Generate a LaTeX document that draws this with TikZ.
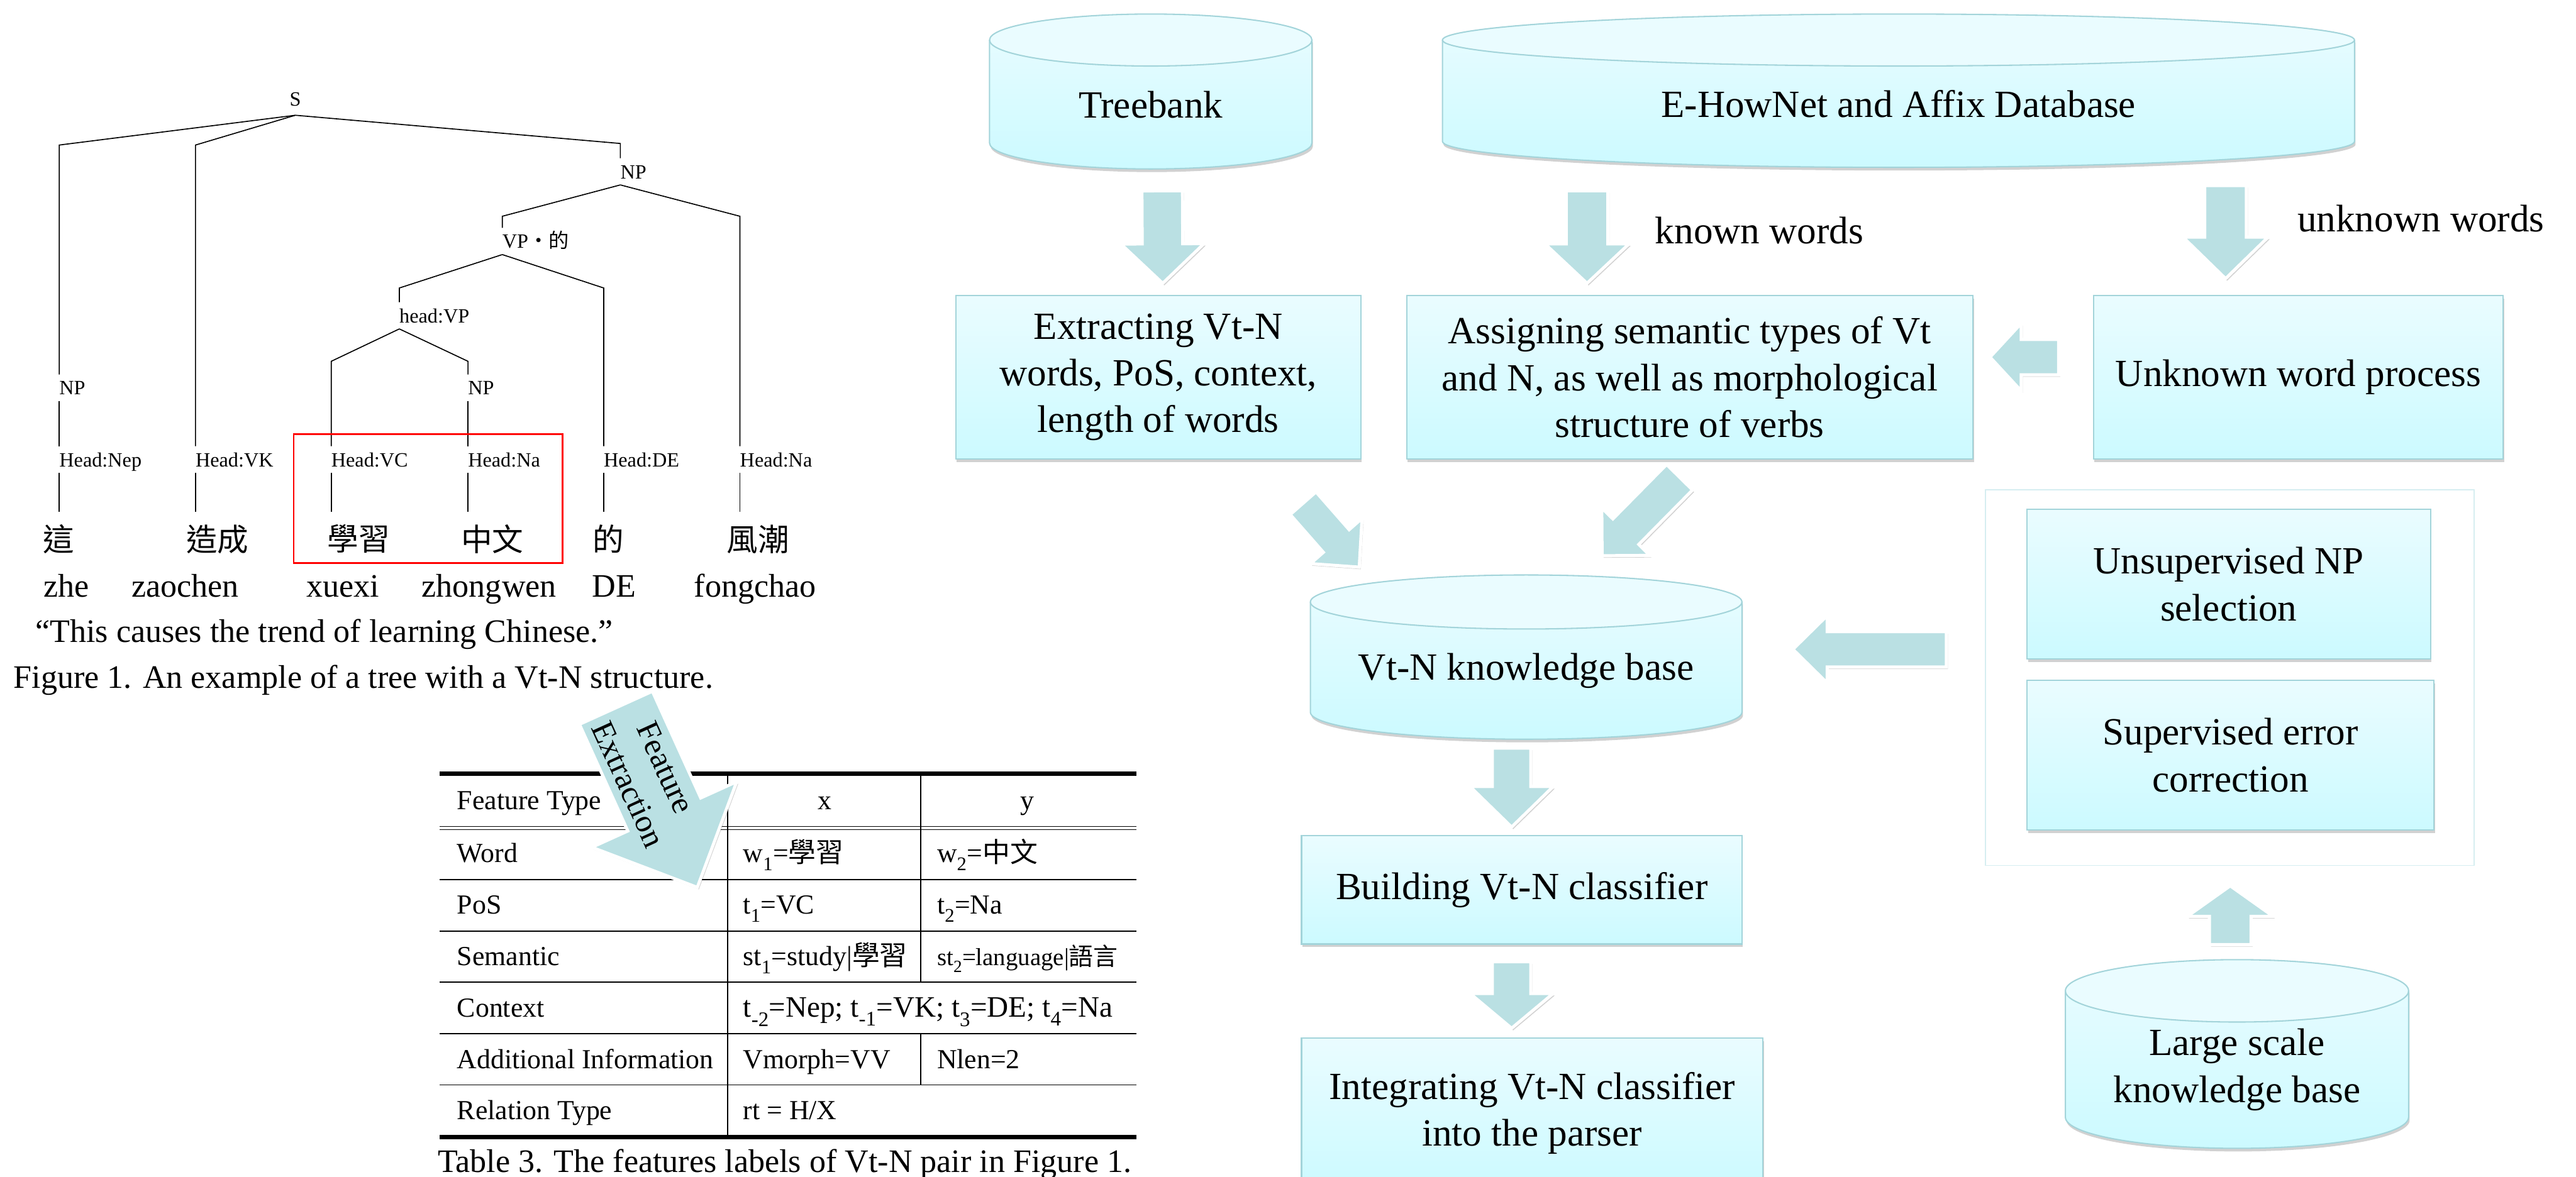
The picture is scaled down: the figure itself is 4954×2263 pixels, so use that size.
\documentclass[tikz,border=0pt]{standalone}
\usepackage{fontspec}
\setmainfont{Liberation Serif}
\newfontfamily\cjk{Noto Sans CJK TC}
\usetikzlibrary{calc,shadows,positioning}

\definecolor{arrowfill}{RGB}{186,224,227}
\definecolor{boxedge}{RGB}{163,212,218}
\definecolor{boxtop}{RGB}{234,252,255}
\definecolor{boxbot}{RGB}{204,250,255}
\definecolor{frameedge}{RGB}{214,238,241}

\tikzset{
  treeline/.style={line width=2pt},
  tag/.style={anchor=west, inner xsep=0pt, inner ysep=12pt, text height=27pt, text depth=0pt, font=\fontsize{39}{39}\selectfont},
  hanzi/.style={inner sep=0pt, font=\fontsize{60}{60}\selectfont\cjk},
  pinyin/.style={anchor=base west, inner sep=0pt, font=\fontsize{63}{63}\selectfont},
  cell/.style={anchor=base west, inner sep=0pt, font=\fontsize{53}{53}\selectfont},
  flowtext/.style={align=center, inner sep=0pt, font=\fontsize{74}{90}\selectfont},
  procbox/.style={flowtext, draw=boxedge, line width=2.5pt, top color=boxtop, bottom color=boxbot,
    drop shadow={shadow xshift=2pt, shadow yshift=-6pt, opacity=.3, fill=black!60}},
  grpframe/.style={draw=frameedge, line width=2pt},
  cylbody/.style={top color=boxtop, bottom color=boxbot,
    drop shadow={shadow xshift=2pt, shadow yshift=-6pt, opacity=.3, fill=black!60}},
  cyltop/.style={fill=boxtop, draw=boxedge, line width=2.5pt},
  cyledge/.style={draw=boxedge, line width=2.5pt},
  blockarrow/.style={fill=arrowfill, draw=white, line width=6pt, line join=miter,
    drop shadow={shadow xshift=3pt, shadow yshift=-4pt, opacity=.3, fill=black!60}},
}

% tail, tip, shaft half width, head half width, head length
\newcommand\blockarrow[5]{%
  \coordinate (ba-h) at ($(#2)!#5pt!(#1)$);
  \filldraw[blockarrow] ($(#1)!#3pt!90:(#2)$) -- ($(ba-h)!#3pt!90:(#2)$) -- ($(ba-h)!#4pt!90:(#2)$)
    -- (#2) -- ($(ba-h)!#4pt!-90:(#2)$) -- ($(ba-h)!#3pt!-90:(#2)$) -- ($(#1)!#3pt!-90:(#2)$) -- cycle;
}

% name, left, right, top, bottom, ry, text
\newcommand\dbcyl[7]{%
  \shade[cylbody] (#2,{-(#4+#6)}) -- (#2,{-(#5-#6)})
    arc[start angle=180, end angle=360, x radius={(#3-#2)/2}, y radius=#6]
    -- (#3,{-(#4+#6)}) arc[start angle=0, end angle=180, x radius={(#3-#2)/2}, y radius=#6] -- cycle;
  \filldraw[cyltop] ({(#2+#3)/2},{-(#4+#6)}) ellipse[x radius={(#3-#2)/2}, y radius=#6];
  \draw[cyledge] (#2,{-(#4+#6)}) -- (#2,{-(#5-#6)})
    arc[start angle=180, end angle=360, x radius={(#3-#2)/2}, y radius=#6] -- (#3,{-(#4+#6)});
  \node[flowtext] (#1) at ({(#2+#3)/2},{-(#4+#6+#5)/2}) {#7};
}

\begin{document}
\begin{tikzpicture}[x=1pt, y=1pt]
\useasboundingbox (0,0) rectangle (4954,-2263);

% parse tree
\node[tag, anchor=center, inner ysep=18pt] (s) at (568,-190) {S};
\node[tag] (np3) at (1193,-330) {NP};
\node[tag] (vpde) at (966,-464) {VP{\cjk ・的}};
\node[tag] (hvp) at (768,-607) {head:VP};
\node[tag] (np1) at (114,-746) {NP};
\node[tag] (np2) at (900,-746) {NP};
\foreach \x/\lab/\nm in {114/Nep/h1, 376/VK/h2, 637/VC/h3, 900/Na/h4, 1161/DE/h5, 1423/Na/h6} {
    \node[tag] (\nm) at (\x,-884) {Head:\lab};
    \draw[treeline] (\nm.south west) -- ++(0,-75);
}
\draw[treeline] (s.south) -- (114,-279) -- (np1.north west);
\draw[treeline] (s.south) -- (376,-279) -- (h2.north west);
\draw[treeline] (s.south) -- (1193,-276) -- (np3.north west);
\draw[treeline] (np3.south west) -- (966,-416) -- (vpde.north west);
\draw[treeline] (np3.south west) -- (1423,-416) -- (h6.north west);
\draw[treeline] (vpde.south west) -- (768,-554) -- (hvp.north west);
\draw[treeline] (vpde.south west) -- (1161,-554) -- (h5.north west);
\draw[treeline] (hvp.south west) -- (637,-695) -- (h3.north west);
\draw[treeline] (hvp.south west) -- (900,-695) -- (np2.north west);
\draw[treeline] (np1.south west) -- (h1.north west);
\draw[treeline] (np2.south west) -- (h4.north west);
\foreach \x/\w/\px/\p [count=\i] in {113/這/84/zhe, 418/造成/253/zaochen, 690/學習/589/xuexi,
    947/中文/811/zhongwen, 1170/的/1139/DE, 1458/風潮/1335/fongchao} {
    \node[hanzi] (hz\i) at (\x,-1037) {\w};
    \node[pinyin] (py\i) at (\px,-1148) {\p};
}
\draw[red, line width=3pt] (565,-835) rectangle (1082,-1083);
\node[pinyin] (quote) at (68,-1236) {“This causes the trend of learning Chinese.”};
\node[pinyin] (fig1) at (26,-1324) {Figure 1. An example of a tree with a Vt-N structure.};

% feature table
\draw[line width=9pt] (846,-1488) -- (2185,-1488);
\draw[line width=1.8pt] (846,-1590) -- (2185,-1590) (846,-1596) -- (2185,-1596);
\foreach \y in {1692,1791,1889,1988,2087}
    \draw[line width=2pt] (846,-\y) -- (2185,-\y);
\draw[line width=9pt] (846,-2187) -- (2185,-2187);
\draw[line width=2pt] (1399,-1488) -- (1399,-2187);
\draw[line width=2pt] (1771,-1488) -- (1771,-1889) (1771,-1988) -- (1771,-2087);
\foreach \y/\a [count=\i] in {1557/Feature Type, 1659/Word, 1758/PoS, 1857/Semantic, 1956/Context,
    2055/Additional Information, 2153/Relation Type}
    \node[cell] (ft\i) at (879,-\y) {\a};
\node[cell, anchor=base] (hx) at (1586,-1557) {x};
\node[cell, anchor=base] (hy) at (1975,-1557) {y};
\node[cell] (c22) at (1429,-1659) {w\textsubscript{1}={\cjk 學習}};
\node[cell] (c23) at (1802,-1659) {w\textsubscript{2}={\cjk 中文}};
\node[cell] (c32) at (1429,-1758) {t\textsubscript{1}=VC};
\node[cell] (c33) at (1802,-1758) {t\textsubscript{2}=Na};
\node[cell] (c42) at (1429,-1857) {st\textsubscript{1}=study|{\cjk 學習}};
\node[cell, font=\fontsize{47}{47}\selectfont] (c43) at (1802,-1857) {st\textsubscript{2}=language|{\cjk 語言}};
\node[cell, font=\fontsize{57}{57}\selectfont] (c52) at (1429,-1956) {t\textsubscript{-2}=Nep; t\textsubscript{-1}=VK; t\textsubscript{3}=DE; t\textsubscript{4}=Na};
\node[cell] (c62) at (1429,-2055) {Vmorph=VV};
\node[cell] (c63) at (1802,-2055) {Nlen=2};
\node[cell] (c72) at (1429,-2153) {rt = H/X};
\node[pinyin] (tab3) at (842,-2255) {Table 3. The features labels of Vt-N pair in Figure 1.};

% feature extraction arrow
\coordinate (fe-t) at (1184.5,-1361.5);
\coordinate (fe-e) at (1341,-1707);
\blockarrow{fe-t}{fe-e}{77}{153}{154}
\node[rotate=-65.6, align=center, inner sep=0pt, font=\fontsize{62}{78}\selectfont] (fe)
    at ($(fe-t)!144pt!(fe-e)$) {Feature\\Extraction};

% flow chart
\dbcyl{tb}{1903}{2523}{27}{325}{50}{Treebank}
\dbcyl{eh}{2774}{4528}{27}{322}{50}{E-HowNet and Affix Database}
\dbcyl{kb}{2520}{3350}{1106}{1422}{52}{Vt-N knowledge base}
\dbcyl{lkb}{3972}{4632}{1846}{2209}{60}{Large scale\\knowledge base}
\node[procbox, minimum width=779pt, minimum height=315pt] (ext) at (2227.5,-725.5) {Extracting Vt-N\\words, PoS, context,\\length of words};
\node[procbox, minimum width=1089pt, minimum height=315pt] (asg) at (3249.5,-725.5) {Assigning semantic types of Vt\\and N, as well as morphological\\structure of verbs};
\node[procbox, minimum width=788pt, minimum height=315pt] (unk) at (4420,-725.5) {Unknown word process};
\node[procbox, minimum width=847pt, minimum height=209pt] (bld) at (2926.5,-1711.5) {Building Vt-N classifier};
\node[procbox, minimum width=887pt, minimum height=288pt] (intg) at (2946.5,-2141) {Integrating Vt-N classifier\\into the parser};
\node[grpframe, minimum width=940pt, minimum height=723pt] (grp) at (4288,-1303.5) {};
\node[procbox, minimum width=776pt, minimum height=287pt] (uns) at (4286,-1123.5) {Unsupervised NP\\selection};
\node[procbox, minimum width=783pt, minimum height=287pt] (sup) at (4289.5,-1452.5) {Supervised error\\correction};
\node[flowtext, anchor=base west] (kw) at (3183,-469) {known words};
\node[flowtext, anchor=base west] (uw) at (4418,-446) {unknown words};

\coordinate (tb-o) at (2235,-367);   \coordinate (ext-i) at (2236,-545);
\coordinate (eh-o) at (3052,-367);   \coordinate (asg-i) at (3052,-545);
\coordinate (eh-u) at (4280,-357);   \coordinate (unk-i) at (4280,-536);
\coordinate (unk-o) at (3959,-687);  \coordinate (asg-r) at (3827,-687);
\coordinate (ext-o) at (2506,-968);  \coordinate (kb-l) at (2614,-1091);
\coordinate (asg-o) at (3230,-918);  \coordinate (kb-r) at (3081,-1069);
\coordinate (grp-o) at (3743,-1249); \coordinate (kb-e) at (3448,-1249);
\coordinate (kb-o) at (2907,-1439);  \coordinate (bld-i) at (2907,-1591);
\coordinate (bld-o) at (2907,-1850); \coordinate (intg-i) at (2907,-1978);
\coordinate (lkb-o) at (4289,-1817); \coordinate (grp-i) at (4289,-1704);
\foreach \a/\b/\w/\h/\l in {tb-o/ext-i/39/80/76, eh-o/asg-i/40/81/76, eh-u/unk-i/40/82/80,
    unk-o/asg-r/34/65/60, ext-o/kb-l/33/66/67, asg-o/kb-r/35/65/65, grp-o/kb-e/34/65/66,
    kb-o/bld-i/37/80/78, bld-o/intg-i/37/80/67, lkb-o/grp-i/40/83/59}
    {\blockarrow{\a}{\b}{\w}{\h}{\l}}
\end{tikzpicture}
\end{document}
